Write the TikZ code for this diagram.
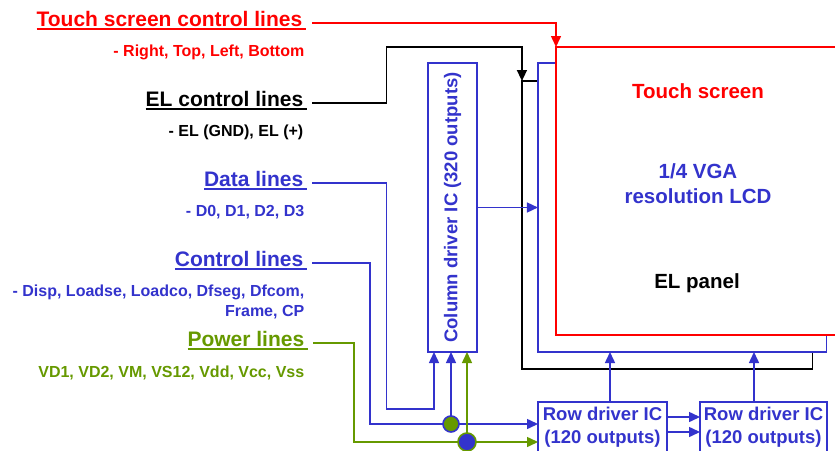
\documentclass[tikz,border=0pt]{standalone}
\usepackage{fontspec}
\setmainfont{Liberation Sans}
\usetikzlibrary{arrows.meta}

\definecolor{linered}{RGB}{255,0,0}
\definecolor{lineblue}{RGB}{51,51,204}
\definecolor{linegreen}{RGB}{102,153,0}

\newcommand{\hdul}[1]{\setbox0\hbox{#1\hspace{4pt}}\rlap{\rule[-4pt]{\wd0}{2.2pt}}#1}

\begin{document}
\begin{tikzpicture}[x=1pt,y=-1pt,line width=1.5pt,>={Triangle[length=11pt,width=10pt]}]
    \tikzset{
        headline/.style={anchor=base east,inner sep=0pt,font=\fontsize{21}{24}\selectfont\bfseries},
        subline/.style={anchor=base east,inner sep=0pt,font=\fontsize{16}{19.5}\selectfont\bfseries},
        panel/.style={draw,fill=white,inner sep=0pt,outer sep=0pt,line width=1.6pt},
        boxtext/.style={inner sep=0pt,align=center,font=\fontsize{20.5}{25}\selectfont\bfseries},
        driver/.style={draw=lineblue,text=lineblue,fill=white,inner sep=0pt,outer sep=0pt,
            line width=1.6pt,align=center,font=\fontsize{18.5}{23}\selectfont\bfseries},
        junction/.style={circle,draw,line width=1.6pt,inner sep=0pt,outer sep=0pt,minimum size=#1}
    }
    \useasboundingbox (0,0) rectangle (835,450);
    \clip (0,0) rectangle (835,450);

    % signal groups on the left
    \node[headline,text=linered] (touch) at (303,26) {\hdul{Touch screen control lines}};
    \node[subline,text=linered] (touchsub) at (305,56) {- Right, Top, Left, Bottom};
    \node[headline] (el) at (304,106) {\hdul{EL control lines}};
    \node[subline] (elsub) at (304,136) {- EL (GND), EL (+)};
    \node[headline,text=lineblue] (data) at (304,186) {\hdul{Data lines}};
    \node[subline,text=lineblue] (datasub) at (305,216) {- D0, D1, D2, D3};
    \node[headline,text=lineblue] (ctrl) at (304,266) {\hdul{Control lines}};
    \node[subline,text=lineblue,align=right,anchor=east] (ctrlsub) at (305,302) {- Disp, Loadse, Loadco, Dfseg, Dfcom,\\Frame, CP};
    \node[headline,text=linegreen] (power) at (305,346) {\hdul{Power lines}};
    \node[subline,text=linegreen] (powersub) at (305,377) {VD1, VD2, VM, VS12, Vdd, Vcc, Vss};

    \coordinate (t0) at ([xshift=9pt,yshift=3pt] touch.base east);
    \coordinate (e0) at ([xshift=8pt,yshift=3pt] el.base east);
    \coordinate (d0) at ([xshift=8pt,yshift=3pt] data.base east);
    \coordinate (c0) at ([xshift=8pt,yshift=3pt] ctrl.base east);
    \coordinate (p0) at ([xshift=8pt,yshift=3pt] power.base east);

    % stacked panels
    \node[panel,minimum width=290.7pt,minimum height=288pt] (elp) at (667.3,225) {};
    \node[panel,draw=lineblue,minimum width=288.7pt,minimum height=289pt] (lcd) at (682.3,207.5) {};
    \node[panel,draw=linered,minimum width=294pt,minimum height=288pt] (ts) at (703,191) {};
    \node[boxtext,text=linered] (tstext) at (698,91) {Touch screen};
    \node[boxtext,text=lineblue] (lcdtext) at (698,184) {1/4 VGA\\resolution LCD};
    \node[boxtext] (eltext) at (697,283) {EL panel};

    % driver ICs
    \node[driver,minimum width=49pt,minimum height=289pt] (coldrv) at (452.5,207.5) {};
    \node[rotate=90,inner sep=0pt,text=lineblue,font=\fontsize{18.5}{22}\selectfont\bfseries] (coltext) at (coldrv.center) {Column driver IC (320 outputs)};
    \node[driver,minimum width=129pt,minimum height=50pt] (row1) at (602.5,427) {Row driver IC\\(120 outputs)};
    \node[driver,minimum width=127pt,minimum height=50pt] (row2) at (763.5,427) {Row driver IC\\(120 outputs)};

    \coordinate (ebend) at (386.7,47);
    \coordinate (dbend) at (386.7,409);
    \coordinate (cbend) at (370,424);
    \coordinate (pbend) at (354,442);
    \coordinate (r1top) at ([xshift=7.5pt] row1.north);
    \coordinate (r2top) at ([xshift=-9.5pt] row2.north);

    \draw[->,linered] (t0) -| (ts.north west);
    \draw[->] (e0) -| (ebend) -| (elp.north west);
    \draw[->,lineblue] (d0) -| (dbend) -| ([xshift=-18.5pt] coldrv.south);
    \draw[->,lineblue] (c0) -| (cbend) -- ([yshift=3pt] row1.west);
    \draw[->,linegreen] (p0) -| (pbend) -- ([yshift=-15pt] row1.west);
    \draw[->,lineblue] (coldrv.east) -- (coldrv.east -| lcd.west);

    \node[junction=16pt,draw=lineblue,fill=linegreen] (j1) at (451,424) {};
    \node[junction=18pt,draw=linegreen,fill=lineblue] (j2) at (467,442) {};
    \draw[->,lineblue] (j1) -- (j1 |- coldrv.south);
    \draw[->,linegreen] (j2) -- (j2 |- coldrv.south);

    \draw[->,lineblue] (r1top) -- (r1top |- lcd.south);
    \draw[->,lineblue] (r2top) -- (r2top |- lcd.south);
    \draw[->,lineblue] ([yshift=10pt] row1.east) -- ([yshift=10pt] row2.west);
    \draw[->,lineblue] ([yshift=-5pt] row1.east) -- ([yshift=-5pt] row2.west);
\end{tikzpicture}
\end{document}
